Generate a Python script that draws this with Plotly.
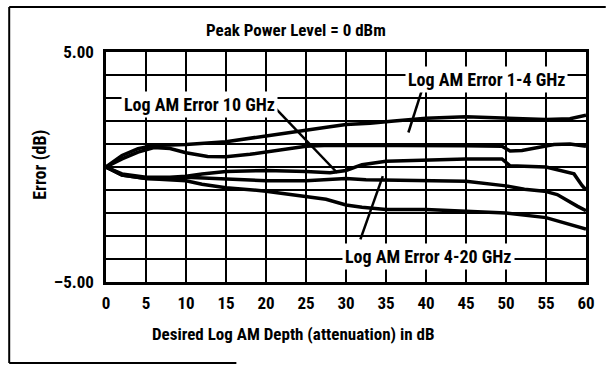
import plotly.graph_objects as go

# Desired log AM depth (dB) and measured error (dB) for each trace
x_1_4_upper = [0, 2, 4, 6, 10, 15, 20, 25, 28, 30, 33, 36, 40, 45, 50, 55, 58, 60]
y_1_4_upper = [0, 0.5, 0.8, 0.93, 0.98, 1.1, 1.35, 1.58, 1.75, 1.85, 1.9, 2.0, 2.12, 2.18, 2.12, 2.07, 2.1, 2.25]

x_1_4_lower = [0, 2, 4, 6, 8, 10, 12.7, 15, 18, 21, 25, 28, 30, 35, 40, 45, 49.5, 50.5, 52, 54, 56, 58, 60]
y_1_4_lower = [0, 0.35, 0.65, 0.85, 0.8, 0.62, 0.46, 0.45, 0.55, 0.7, 0.9, 0.95, 0.95, 0.93, 0.92, 0.92, 0.9, 0.7, 0.72, 0.85, 0.98, 1.0, 0.9]

x_10 = [0, 2, 5, 8, 10, 12, 15, 20, 25, 28, 30, 32, 35, 40, 45, 49.5, 50.5, 55, 58.5, 59.5, 60]
y_10 = [0, -0.3, -0.45, -0.45, -0.4, -0.3, -0.2, -0.15, -0.2, -0.25, -0.15, 0.1, 0.25, 0.3, 0.35, 0.35, 0.05, 0.0, -0.3, -0.8, -1.0]

x_4_20_upper = [0, 2, 5, 8, 10, 13, 15, 20, 25, 30, 32.5, 40, 45, 50, 52.3, 54.8, 56.4, 58.9, 60]
y_4_20_upper = [0, -0.35, -0.5, -0.5, -0.45, -0.5, -0.55, -0.6, -0.6, -0.5, -0.55, -0.6, -0.62, -0.82, -0.97, -1.05, -1.2, -1.7, -1.9]

x_4_20_lower = [0, 2, 5, 8, 10, 12, 15, 20, 25, 27.5, 30, 32, 35, 40, 45, 50, 55, 60]
y_4_20_lower = [0, -0.35, -0.5, -0.55, -0.6, -0.75, -0.9, -1.05, -1.3, -1.4, -1.65, -1.75, -1.85, -1.85, -1.92, -2.0, -2.2, -2.7]

x_ticks = list(range(0, 61, 5))
y_grid = list(range(-5, 6))
y_ticktext = ["\u20135.00"] + [""] * 9 + ["5.00"]

W, H = 607, 366
L, R, T, B = 106, 15, 52, 84
PW, PH = W - L - R, H - T - B

FONT = "Roboto Condensed, DejaVu Sans Condensed, sans-serif"


def px(x):
    return (x - L) / PW


def py(y):
    return (H - B - y) / PH


fig = go.Figure()
for xs, ys in [(x_1_4_upper, y_1_4_upper), (x_1_4_lower, y_1_4_lower), (x_10, y_10),
               (x_4_20_upper, y_4_20_upper), (x_4_20_lower, y_4_20_lower)]:
    fig.add_trace(go.Scatter(x=xs, y=ys, mode="lines", line=dict(color="black", width=3.5),
                             showlegend=False, hoverinfo="skip"))

shapes = []
# leader lines from the callouts to the traces
for (x0, y0, x1, y1) in [(21.2, 2.55, 28.9, -0.25), (39.5, 3.35, 37.8, 1.5), (31.8, -3.15, 34.6, -0.4)]:
    shapes.append(dict(type="line", xref="x", yref="y", x0=x0, y0=y0, x1=x1, y1=y1,
                       line=dict(color="black", width=2.5), layer="above"))
# page frame
shapes.append(dict(type="line", xref="paper", yref="paper", x0=px(8), x1=px(8), y0=py(7), y1=py(363),
                   line=dict(color="black", width=2)))
shapes.append(dict(type="line", xref="paper", yref="paper", x0=px(8), x1=px(612), y0=py(7), y1=py(7),
                   line=dict(color="black", width=2)))
shapes.append(dict(type="line", xref="paper", yref="paper", x0=px(8), x1=px(238), y0=py(363), y1=py(363),
                   line=dict(color="black", width=2)))

label_font = dict(family=FONT, size=18, color="black")
annotations = [
    dict(text="<b>Log AM Error 10 GHz</b>", x=11.7, y=2.72, xref="x", yref="y", showarrow=False,
         bgcolor="white", borderpad=2, font=label_font),
    dict(text="<b>Log AM Error 1-4 GHz</b>", x=47.6, y=3.8, xref="x", yref="y", showarrow=False,
         bgcolor="white", borderpad=2, font=label_font),
    dict(text="<b>Log AM Error 4-20 GHz</b>", x=40.3, y=-3.9, xref="x", yref="y", showarrow=False,
         bgcolor="white", borderpad=2, font=label_font),
    dict(text="<b>Peak Power Level = 0 dBm</b>", x=px(298), y=py(30), xref="paper", yref="paper",
         xanchor="center", yanchor="middle",
         showarrow=False, font=dict(family=FONT, size=17, color="black")),
    dict(text="<b>Desired Log AM Depth (attenuation) in dB</b>", x=px(295), y=py(334), xref="paper",
         yref="paper", xanchor="center", yanchor="middle",
         showarrow=False, font=dict(family=FONT, size=17, color="black")),
    dict(text="<b>Error (dB)</b>", x=px(39), y=py(165), xref="paper", yref="paper", textangle=-90,
         xanchor="center", yanchor="middle",
         showarrow=False, font=dict(family=FONT, size=18, color="black")),
]

fig.update_layout(
    width=W, height=H,
    margin=dict(l=L, r=R, t=T, b=B),
    paper_bgcolor="white", plot_bgcolor="white",
    shapes=shapes, annotations=annotations,
    xaxis=dict(range=[0, 60], tickvals=x_ticks, ticktext=[str(v) for v in x_ticks],
               showgrid=True, gridcolor="black", gridwidth=2, zeroline=False,
               showline=True, mirror=True, linecolor="black", linewidth=2.5,
               ticks="", ticklabelstandoff=4,
               tickfont=dict(family=FONT, size=17, color="black", weight="bold")),
    yaxis=dict(range=[-5, 5], tickvals=y_grid, ticktext=y_ticktext,
               showgrid=True, gridcolor="black", gridwidth=2, zeroline=False,
               showline=True, mirror=True, linecolor="black", linewidth=2.5,
               ticks="", ticklabelstandoff=6,
               tickfont=dict(family=FONT, size=17, color="black", weight="bold")),
)

fig.write_html("out.html")
